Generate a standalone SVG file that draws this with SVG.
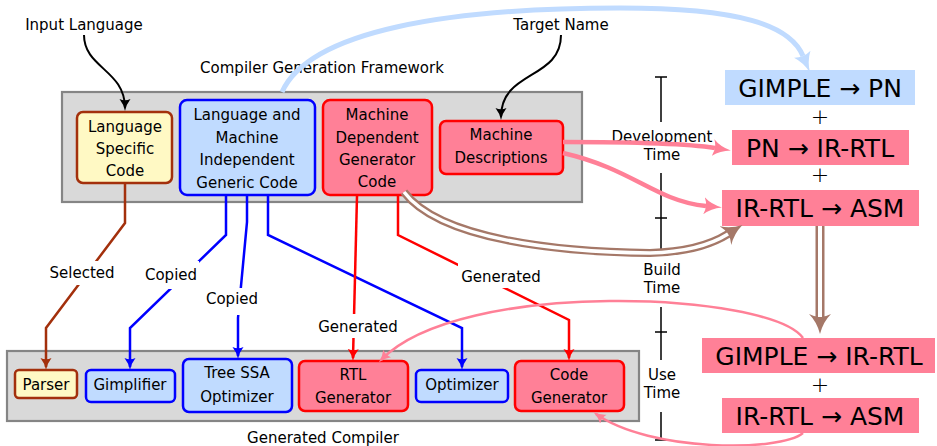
<svg xmlns="http://www.w3.org/2000/svg" width="937" height="446" viewBox="0 0 937 446">
<style>
text{font-family:"DejaVu Sans","Liberation Sans",sans-serif;fill:#000}
.t{font-size:15px;text-anchor:middle}
.big{font-size:25px;text-anchor:middle}
.plus{font-size:22px;text-anchor:middle;font-weight:200}
.frame{fill:#d9d9d9;stroke:#858585;stroke-width:2.2}
.yel{fill:#fff9c4;stroke:#a3300c;stroke-width:2.5}
.blu{fill:#c0dbff;stroke:#0000ff;stroke-width:2.5}
.red{fill:#ff8097;stroke:#ff0000;stroke-width:2.5}
.pk{fill:#ff8097}
.lb{fill:#c0dbff}
.c{fill:none}
.lbl{fill:#fff}
.tl{stroke:#000;stroke-width:1.5;fill:none}
</style>
<defs>
<marker id="ah-k" viewBox="0 -6 12 12" refX="9" refY="0" markerWidth="12" markerHeight="12" markerUnits="userSpaceOnUse" orient="auto"><path d="M0,-5.5 Q5,-1.5 12,0 Q5,1.5 0,5.5 Q2.5,0 0,-5.5Z" fill="#000"/></marker>
<marker id="ah-br" viewBox="0 -6 12 12" refX="9" refY="0" markerWidth="12" markerHeight="12" markerUnits="userSpaceOnUse" orient="auto"><path d="M0,-5.5 Q5,-1.5 12,0 Q5,1.5 0,5.5 Q2.5,0 0,-5.5Z" fill="#a3300c"/></marker>
<marker id="ah-b" viewBox="0 -6 12 12" refX="9" refY="0" markerWidth="12" markerHeight="12" markerUnits="userSpaceOnUse" orient="auto"><path d="M0,-5.5 Q5,-1.5 12,0 Q5,1.5 0,5.5 Q2.5,0 0,-5.5Z" fill="#0000ff"/></marker>
<marker id="ah-r" viewBox="0 -6 12 12" refX="9" refY="0" markerWidth="12" markerHeight="12" markerUnits="userSpaceOnUse" orient="auto"><path d="M0,-5.5 Q5,-1.5 12,0 Q5,1.5 0,5.5 Q2.5,0 0,-5.5Z" fill="#ff0000"/></marker>
<marker id="ah-p" viewBox="0 -6 12 12" refX="9" refY="0" markerWidth="12" markerHeight="12" markerUnits="userSpaceOnUse" orient="auto"><path d="M0,-5.5 Q5,-1.5 12,0 Q5,1.5 0,5.5 Q2.5,0 0,-5.5Z" fill="#ff8097"/></marker>
<marker id="ah-P" viewBox="0 -8.5 18 17" refX="2" refY="0" markerWidth="18" markerHeight="17" markerUnits="userSpaceOnUse" orient="auto"><path d="M0,-8.5 Q7,-2 18,0 Q7,2 0,8.5 Q4,0 0,-8.5Z" fill="#ff8097"/></marker>
<marker id="ah-L" viewBox="0 -9 20 18" refX="2" refY="0" markerWidth="20" markerHeight="18" markerUnits="userSpaceOnUse" orient="auto"><path d="M0,-9 Q8,-2 20,0 Q8,2 0,9 Q4,0 0,-9Z" fill="#c0dbff"/></marker>
<marker id="ah-D" viewBox="0 -11 20 22" refX="3" refY="0" markerWidth="20" markerHeight="22" markerUnits="userSpaceOnUse" orient="auto"><path d="M0,-11 Q8,-3 20,0 Q8,3 0,11 Q6,0 0,-11Z" fill="#a57868"/></marker>
</defs>

<!-- frames -->
<g id="framework">
<rect class="frame" x="62" y="92" width="520" height="110"/>
<text class="t" x="322" y="73">Compiler Generation Framework</text>
</g>
<g id="generated-compiler">
<rect class="frame" x="7" y="351" width="632" height="70"/>
<text class="t" x="323" y="443">Generated Compiler</text>
</g>

<!-- timeline -->
<g id="timeline">
<path class="tl" d="M661,77V122M655,77H667M661,173V250M655,218H667M661,307V360M655,332H667M661,412V440M655,440H667"/>
<text class="t" x="662" y="142">Development</text>
<text class="t" x="662" y="160">Time</text>
<text class="t" x="662" y="275">Build</text>
<text class="t" x="662" y="293">Time</text>
<text class="t" x="662" y="380">Use</text>
<text class="t" x="662" y="398">Time</text>
</g>

<!-- top nodes -->
<g id="lang-specific"><rect class="yel" x="77" y="112" width="95" height="71" rx="6"/>
<text class="t" x="125" y="132">Language</text><text class="t" x="125" y="154">Specific</text><text class="t" x="125" y="176">Code</text></g>
<g id="generic-code"><rect class="blu" x="180" y="100" width="135" height="95" rx="7"/>
<text class="t" x="247" y="120">Language and</text><text class="t" x="247" y="143">Machine</text><text class="t" x="247" y="165">Independent</text><text class="t" x="247" y="188">Generic Code</text></g>
<g id="machine-dependent"><rect class="red" x="323" y="100" width="109" height="95" rx="7"/>
<text class="t" x="377" y="120">Machine</text><text class="t" x="377" y="143">Dependent</text><text class="t" x="377" y="165">Generator</text><text class="t" x="377" y="187">Code</text></g>
<g id="machine-descriptions"><rect class="red" x="440" y="121" width="123" height="53" rx="6"/>
<text class="t" x="501" y="140">Machine</text><text class="t" x="501" y="163">Descriptions</text></g>

<!-- bottom nodes -->
<g id="parser"><rect class="yel" x="15" y="370" width="62" height="28" rx="4"/><text class="t" x="46" y="390">Parser</text></g>
<g id="gimplifier"><rect class="blu" x="86" y="370" width="89" height="32" rx="5"/><text class="t" x="130" y="390">Gimplifier</text></g>
<g id="tree-ssa"><rect class="blu" x="183" y="359" width="109" height="53" rx="6"/><text class="t" x="237" y="378">Tree SSA</text><text class="t" x="237" y="402">Optimizer</text></g>
<g id="rtl-generator"><rect class="red" x="299" y="361" width="109" height="50" rx="6"/><text class="t" x="353" y="380">RTL</text><text class="t" x="353" y="403">Generator</text></g>
<g id="optimizer"><rect class="blu" x="416" y="370" width="92" height="32" rx="5"/><text class="t" x="462" y="390">Optimizer</text></g>
<g id="code-generator"><rect class="red" x="515" y="361" width="109" height="50" rx="6"/><text class="t" x="569" y="380">Code</text><text class="t" x="569" y="403">Generator</text></g>

<!-- right column -->
<g id="gimple-pn"><rect class="lb" x="725" y="70" width="190" height="35"/><text class="big" x="820" y="97">GIMPLE → PN</text></g>
<g id="plus1"><text class="plus" x="820" y="124">+</text></g>
<g id="pn-irrtl"><rect class="pk" x="732" y="130" width="177" height="35"/><text class="big" x="820" y="157">PN → IR-RTL</text></g>
<g id="plus2"><text class="plus" x="820" y="182">+</text></g>
<g id="irrtl-asm-1"><rect class="pk" x="722" y="190" width="197" height="36"/><text class="big" x="820" y="217">IR-RTL → ASM</text></g>
<g id="gimple-irrtl"><rect class="pk" x="702" y="338" width="233" height="35"/><text class="big" x="819" y="365">GIMPLE → IR-RTL</text></g>
<g id="plus3"><text class="plus" x="820" y="392">+</text></g>
<g id="irrtl-asm-2"><rect class="pk" x="722" y="398" width="197" height="35"/><text class="big" x="820" y="425">IR-RTL → ASM</text></g>

<!-- top labels -->
<g id="input-language"><text class="t" x="84" y="30">Input Language</text></g>
<g id="target-name"><text class="t" x="561" y="30">Target Name</text></g>

<!-- connectors -->
<g id="connectors">
<path class="c" stroke="#000" stroke-width="2" d="M84,35 C84,68 125,70 125,108" marker-end="url(#ah-k)"/>
<path class="c" stroke="#000" stroke-width="2" d="M561,35 C561,80 501,70 501,117" marker-end="url(#ah-k)"/>
<path class="c" stroke="#c0dbff" stroke-width="5" d="M282,92 C310,30 450,8 620,8 C740,8 790,25 803,56" marker-end="url(#ah-L)"/>

<path class="c" stroke="#a3300c" stroke-width="2.5" d="M125,184 V223 L46,328 V367" marker-end="url(#ah-br)"/>
<path class="c" stroke="#0000ff" stroke-width="2.5" d="M226,196 V235 L130,328 V367" marker-end="url(#ah-b)"/>
<path class="c" stroke="#0000ff" stroke-width="2.5" d="M247,196 V222 L238,318 V356" marker-end="url(#ah-b)"/>
<path class="c" stroke="#0000ff" stroke-width="2.5" d="M268,196 V235 L462,328 V367" marker-end="url(#ah-b)"/>
<path class="c" stroke="#ff0000" stroke-width="2.5" d="M357,196 L353,358" marker-end="url(#ah-r)"/>
<path class="c" stroke="#ff0000" stroke-width="2.5" d="M398,196 V235 L569,320 V358" marker-end="url(#ah-r)"/>

<path class="c" stroke="#ff8097" stroke-width="4.5" d="M563,142 C630,142 690,144 715,148" marker-end="url(#ah-P)"/>
<path class="c" stroke="#ff8097" stroke-width="4.5" d="M563,153 C615,165 640,185 670,197 C685,203 695,205 706,206" marker-end="url(#ah-P)"/>

<path class="c" stroke="#a57868" stroke-width="8" d="M404,192 C440,240 560,252 650,253 C690,252 712,244 728,234" marker-end="url(#ah-D)"/>
<path class="c" stroke="#fff" stroke-width="3.5" d="M404,192 C440,240 560,252 650,253 C690,252 712,244 728,234"/>
<path class="c" stroke="#a57868" stroke-width="9" d="M820,226 V317" marker-end="url(#ah-D)"/>
<path class="c" stroke="#fff" stroke-width="4" d="M820,226 V317"/>

<path class="c" stroke="#ff8097" stroke-width="2.5" d="M803,338 C770,292 460,278 381,360" marker-end="url(#ah-p)"/>
<path class="c" stroke="#ff8097" stroke-width="2.5" d="M803,433 C780,452 650,452 596,414" marker-end="url(#ah-p)"/>

<rect class="lbl" x="49" y="261" width="66" height="24"/><text class="t" x="82" y="278">Selected</text>
<rect class="lbl" x="143" y="261" width="56" height="28"/><text class="t" x="171" y="280">Copied</text>
<rect class="lbl" x="205" y="288" width="55" height="27"/><text class="t" x="232" y="304">Copied</text>
<rect class="lbl" x="317" y="314" width="83" height="24"/><text class="t" x="358" y="332">Generated</text>
<rect class="lbl" x="458" y="263" width="86" height="25"/><text class="t" x="501" y="282">Generated</text>
</g>
</svg>
